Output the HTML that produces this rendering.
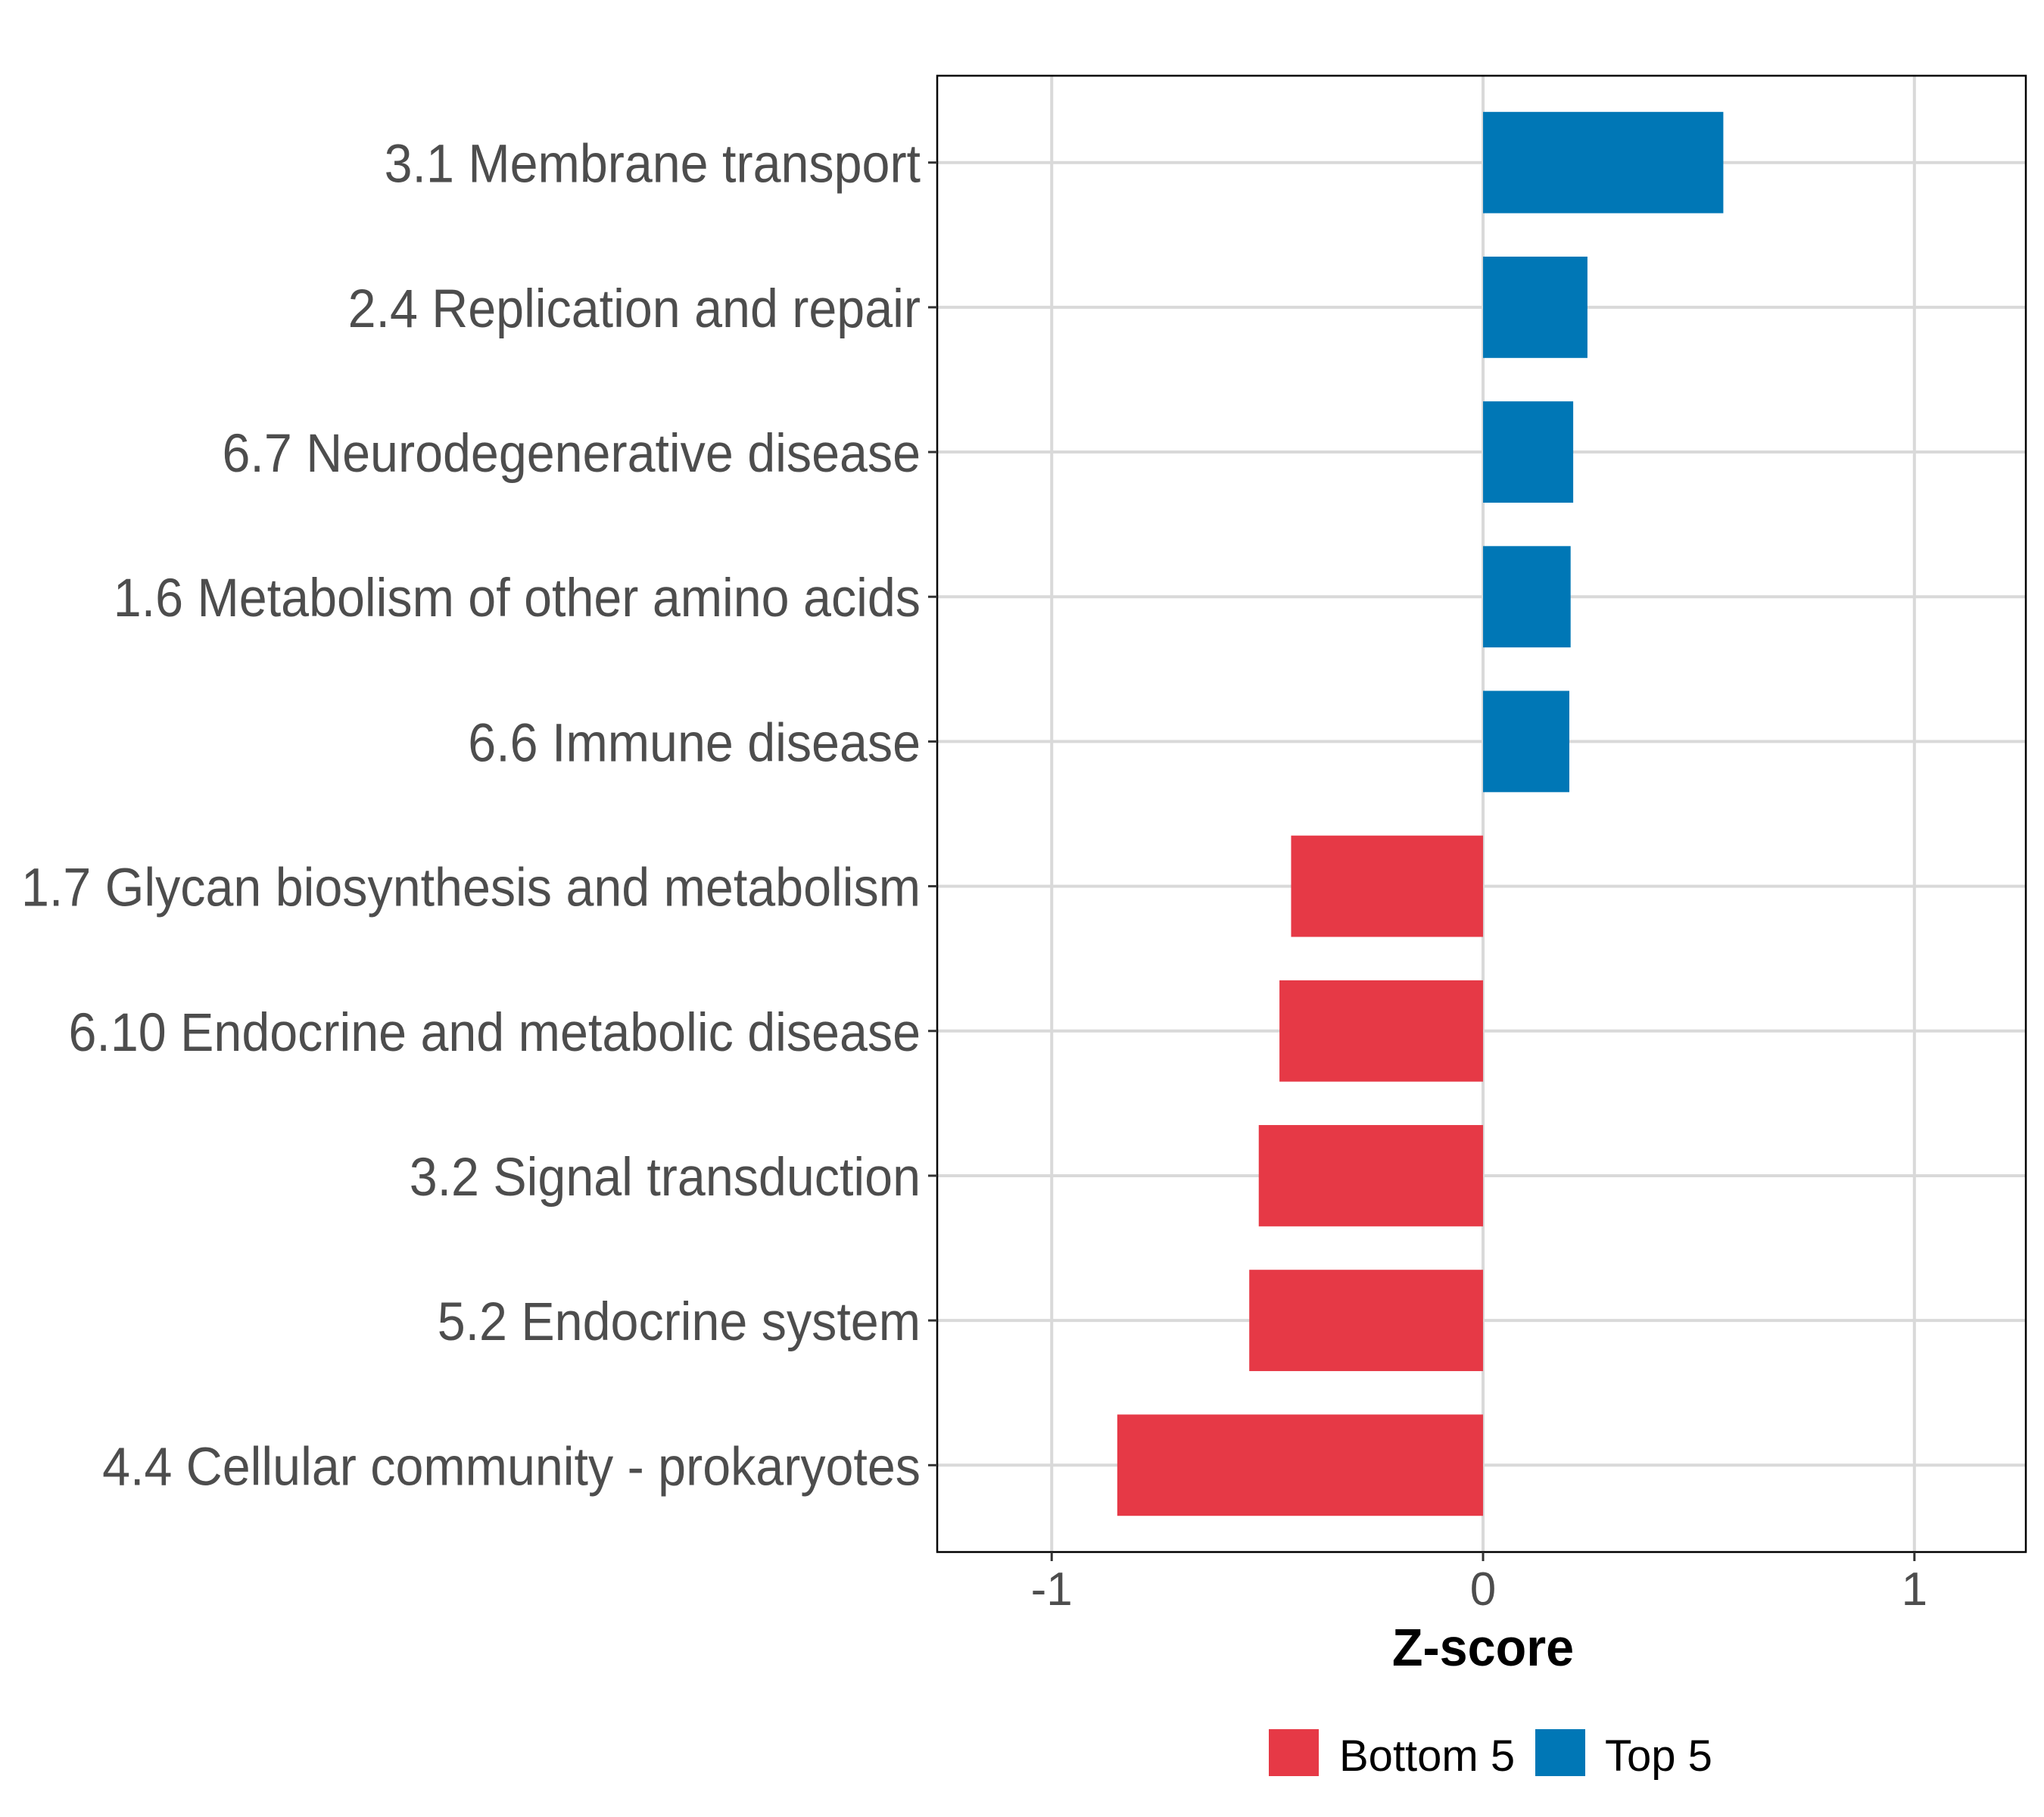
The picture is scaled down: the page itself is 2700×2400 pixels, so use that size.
<!DOCTYPE html>
<html><head><meta charset="utf-8">
<style>
html,body{margin:0;padding:0;background:#fff;}
svg{display:block;}
</style></head>
<body>
<svg id="chart" xmlns="http://www.w3.org/2000/svg" width="2700" height="2400" viewBox="0 0 2700 2400" font-family="'Liberation Sans', sans-serif">
<rect width="2700" height="2400" fill="#fff"/>
<g id="grid"></g>
<g id="bars"></g>
<rect id="panel" x="1238" y="100" width="1438" height="1950" fill="none" stroke="#000" stroke-width="2.5"/>
<g id="ylabels"></g>
<g id="xlabels"></g>
<text x="1959" y="2200" text-anchor="middle" font-size="70" font-weight="bold" fill="#000" transform="translate(1959 0) scale(0.95 1) translate(-1959 0)">Z-score</text>
<g>
<rect x="1676" y="2284" width="66" height="62" fill="#E63946"/>
<text x="1769" y="2339" font-size="58" fill="#000">Bottom 5</text>
<rect x="2028" y="2284" width="66" height="62" fill="#0077B6"/>
<text x="2120" y="2339" font-size="58" fill="#000">Top 5</text>
</g>
</svg>
<script>
const categories = ["3.1 Membrane transport","2.4 Replication and repair","6.7 Neurodegenerative disease","1.6 Metabolism of other amino acids","6.6 Immune disease","1.7 Glycan biosynthesis and metabolism","6.10 Endocrine and metabolic disease","3.2 Signal transduction","5.2 Endocrine system","4.4 Cellular community - prokaryotes"];
const values = [0.557, 0.242, 0.209, 0.203, 0.200, -0.445, -0.472, -0.520, -0.542, -0.848];
const groups = ["Top 5","Top 5","Top 5","Top 5","Top 5","Bottom 5","Bottom 5","Bottom 5","Bottom 5","Bottom 5"];
const xTicks = [-1, 0, 1];
const xTickLabels = ["-1", "0", "1"];

const NS = "http://www.w3.org/2000/svg";
const PL = 1238, PR = 2676, PT = 100, PB = 2050;
const XMIN = -1.2654, XMAX = 1.2583;
const n = categories.length;
function xs(v){ return PL + (v - XMIN) / (XMAX - XMIN) * (PR - PL); }
function ys(i){ const ext = 0.6; return PT + (i + ext) / (n - 1 + 2*ext) * (PB - PT); }
const bandH = (PB - PT) / (n - 1 + 1.2);
const colors = {"Top 5":"#0077B6","Bottom 5":"#E63946"};
function mk(tag, attrs, parent){ const e = document.createElementNS(NS, tag); for (const k in attrs) e.setAttribute(k, attrs[k]); parent.appendChild(e); return e; }

const grid = document.getElementById('grid');
const bars = document.getElementById('bars');
const ylab = document.getElementById('ylabels');
const xlab = document.getElementById('xlabels');

xTicks.forEach((t, j) => {
  const x = xs(t);
  const g = mk('line', {x1:x, x2:x, y1:PT, y2:PB, stroke:'#d9d9d9', 'stroke-width':4}, grid);
  
  
  const tk = mk('line', {x1:x, x2:x, y1:PB, y2:PB+12, stroke:'#333', 'stroke-width':3}, xlab);
  
  
  const tx = mk('text', {x:x, y:2120, 'text-anchor':'middle', 'font-size':62, fill:'#4d4d4d'}, xlab);
  tx.textContent = xTickLabels[j];
  
  
});

const labelEls = [];
categories.forEach((c, i) => {
  const y = ys(i);
  const g = mk('line', {x1:PL, x2:PR, y1:y, y2:y, stroke:'#d9d9d9', 'stroke-width':4}, grid);
  
  
  const v = values[i];
  const x0 = xs(0), x1 = xs(v);
  const r = mk('rect', {x:Math.min(x0,x1), y:y - bandH*0.35, width:Math.abs(x1-x0), height:bandH*0.7, fill:colors[groups[i]]}, bars);
  
  
  const tk = mk('line', {x1:PL-12, x2:PL, y1:y, y2:y, stroke:'#333', 'stroke-width':3}, ylab);
  
  
  const t = mk('text', {x:1216, y:y + 26, 'text-anchor':'end', 'font-size':71, fill:'#4d4d4d'}, ylab);
  t.textContent = c;
  
  
  labelEls.push(t);
});
try {
  const wL = labelEls[5].getComputedTextLength();
  if (wL > 0) {
    const k = 1188 / wL;
    labelEls.forEach(e => {
      const w = e.getComputedTextLength();
      e.setAttribute('textLength', (w * k).toFixed(1));
      e.setAttribute('lengthAdjust', 'spacingAndGlyphs');
    });
  }
} catch(e) {}
</script>
</body></html>
